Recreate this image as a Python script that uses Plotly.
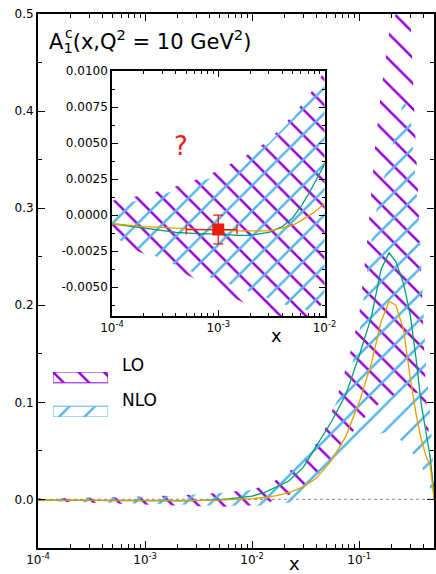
import numpy as np
import plotly.graph_objects as go

# ---------------- data ----------------
x_band = [1e-4, 2e-4, 5e-4, 1e-3, 2e-3, 3e-3, 5e-3, 7e-3, 1e-2, 0.015, 0.02, 0.03, 0.045,
          0.06, 0.08, 0.1, 0.12, 0.14, 0.16, 0.19, 0.22, 0.26, 0.30, 0.33, 0.36, 0.39,
          0.42, 0.46, 0.5]
lo_upper = [0.0010, 0.0014, 0.0022, 0.0031, 0.0043, 0.0052, 0.0069, 0.0082, 0.0100, 0.017,
            0.025, 0.040, 0.065, 0.100, 0.145, 0.19, 0.27, 0.36, 0.42, 0.48, 0.50, 0.53,
            0.50, 0.39, 0.30, 0.20, 0.11, 0.05, 0.0]
lo_lower = [-0.0017, -0.0027, -0.0041, -0.0052, -0.0063, -0.0069, -0.0075, -0.0072, -0.0060,
            -0.002, 0.002, 0.013, 0.030, 0.048, 0.065, 0.078, 0.088, 0.095, 0.10, 0.105,
            0.108, 0.11, 0.11, 0.11, 0.11, 0.10, 0.075, 0.04, 0.0]
nlo_upper = [0.0006, 0.0011, 0.0019, 0.0028, 0.0040, 0.0050, 0.0067, 0.0080, 0.0098, 0.018,
             0.027, 0.042, 0.068, 0.098, 0.125, 0.17, 0.24, 0.29, 0.32, 0.35, 0.38, 0.41,
             0.40, 0.34, 0.29, 0.22, 0.14, 0.09, 0.02]
nlo_lower = [-0.0015, -0.0025, -0.0038, -0.0045, -0.0053, -0.0058, -0.0064, -0.0066, -0.0065,
             -0.006, -0.004, -0.001, 0.012, 0.025, 0.040, 0.052, 0.062, 0.066, 0.068, 0.07,
             0.066, 0.058, 0.05, 0.045, 0.038, 0.032, 0.025, 0.012, 0.0]

x_curve = [1e-4, 2e-4, 4e-4, 7e-4, 1e-3, 1.5e-3, 2e-3, 3e-3, 4e-3, 5e-3, 6e-3, 7e-3, 8e-3,
           1e-2, 0.013, 0.017, 0.022, 0.03, 0.04, 0.055, 0.075, 0.1, 0.13, 0.16, 0.19, 0.22,
           0.26, 0.30, 0.34, 0.38, 0.42, 0.46, 0.49, 0.5]
green_curve = [-0.0006, -0.0009, -0.0012, -0.0013, -0.0013, -0.0014, -0.0014, -0.0012, -0.0008,
               -0.0002, 0.0006, 0.0014, 0.0022, 0.0035, 0.007, 0.013, 0.019, 0.033, 0.056,
               0.080, 0.108, 0.148, 0.188, 0.237, 0.254, 0.245, 0.222, 0.19, 0.145, 0.098,
               0.07, 0.044, 0.015, 0.0]
orange_curve = [-0.0006, -0.0008, -0.0009, -0.0010, -0.0010, -0.0011, -0.0011, -0.0011, -0.0009,
                -0.0007, -0.0004, -0.0001, 0.0002, 0.0008, 0.002, 0.004, 0.007, 0.013, 0.022,
                0.040, 0.065, 0.100, 0.140, 0.183, 0.204, 0.200, 0.175, 0.125, 0.088, 0.062,
                0.045, 0.035, 0.01, 0.0]

point_x = [1e-3]
point_y = [-0.001]
point_xerr = [5e-4]
point_yerr = [0.001]

legend_labels = ["LO", "NLO"]
x_ticks = [1e-4, 1e-3, 1e-2, 1e-1]
x_ticktext = ["10<sup>-4</sup>", "10<sup>-3</sup>", "10<sup>-2</sup>", "10<sup>-1</sup>"]
y_ticks = [0.0, 0.1, 0.2, 0.3, 0.4, 0.5]
inset_x_ticks = [1e-4, 1e-3, 1e-2]
inset_x_ticktext = ["10<sup>-4</sup>", "10<sup>-3</sup>", "10<sup>-2</sup>"]
inset_y_ticks = [-0.005, -0.0025, 0.0, 0.0025, 0.005, 0.0075, 0.01]
inset_y_ticktext = ["-0.0050", "-0.0025", "0.0000", "0.0025", "0.0050", "0.0075", "0.0100"]

# ---------------- style ----------------
PURPLE = "#9400d3"
BLUE = "#56b4e9"
GREEN = "#009e73"
ORANGE = "#e69f00"
RED = "#e51e10"
FONT = "DejaVu Sans"
PAT_SIZE = 18
PAT_SOLID = 0.14

fig = go.Figure()


def pattern(shape, color):
    return dict(shape=shape, fgcolor=color, fgopacity=1, bgcolor="rgba(0,0,0,0)",
                size=PAT_SIZE, solidity=PAT_SOLID, fillmode="overlay")


def band(xs, up, lo, shape, color, xa, ya):
    return go.Scatter(
        x=list(xs) + list(xs)[::-1], y=list(up) + list(lo)[::-1],
        xaxis=xa, yaxis=ya, mode="lines", fill="toself",
        fillcolor="rgba(0,0,0,0)", fillpattern=pattern(shape, color),
        line=dict(width=0, color="rgba(0,0,0,0)"), showlegend=False, hoverinfo="skip")


for xa, ya in [("x", "y"), ("x2", "y2")]:
    fig.add_trace(band(x_band, lo_upper, lo_lower, "\\", PURPLE, xa, ya))
    fig.add_trace(band(x_band, nlo_upper, nlo_lower, "/", BLUE, xa, ya))
    fig.add_trace(go.Scatter(x=x_curve, y=green_curve, xaxis=xa, yaxis=ya, mode="lines",
                             line=dict(color=GREEN, width=1.3), showlegend=False))
    fig.add_trace(go.Scatter(x=x_curve, y=orange_curve, xaxis=xa, yaxis=ya, mode="lines",
                             line=dict(color=ORANGE, width=1.3), showlegend=False))

fig.add_trace(go.Scatter(
    x=point_x, y=point_y, xaxis="x2", yaxis="y2", mode="markers",
    marker=dict(symbol="square", size=12, color=RED),
    error_x=dict(type="data", array=point_xerr, color=RED, thickness=1.3, width=5),
    error_y=dict(type="data", array=point_yerr, color=RED, thickness=1.3, width=5),
    showlegend=False))

# legend swatches on a dedicated hidden axis
sw_colors = [PURPLE, BLUE]
sw_shapes = ["\\", "/"]
sw_rows = [(0.76, 1.0), (0.0, 0.24)]
for lab, col, shp, (y0, y1) in zip(legend_labels, sw_colors, sw_shapes, sw_rows):
    fig.add_trace(go.Scatter(
        x=[0, 1, 1, 0, 0], y=[y0, y0, y1, y1, y0], xaxis="x3", yaxis="y3",
        mode="lines", fill="toself", fillcolor="rgba(0,0,0,0)",
        fillpattern=pattern(shp, col),
        line=dict(color=col, width=1), showlegend=False, hoverinfo="skip"))

W, H = 436, 574
L, R, T, B = 38, 2, 14, 26
pw, ph = W - L - R, H - T - B


def px_x(p):
    return (p - L) / pw


def px_y(p):
    return (H - B - p) / ph


axis_common = dict(showline=True, linecolor="black", mirror="ticks", ticks="inside",
                   tickcolor="black", showgrid=False, zeroline=False, automargin=False,
                   tickfont=dict(family=FONT, size=12, color="black"))

minor_main_x = [m * 10.0 ** e for e in range(-4, 0) for m in range(2, 10) if m * 10.0 ** e < 0.5]
minor_inset_x = [m * 10.0 ** e for e in range(-4, -2) for m in range(2, 10)]

fig.update_layout(
    width=W, height=H, margin=dict(l=L, r=R, t=T, b=B, autoexpand=False),
    paper_bgcolor="white", plot_bgcolor="white", showlegend=False,
    font=dict(family=FONT, size=12, color="black"),
    xaxis=dict(type="log", range=[-4, np.log10(0.5)], tickvals=x_ticks, ticktext=x_ticktext,
               ticklen=7, tickwidth=1.2, linewidth=2,
               minor=dict(tickvals=minor_main_x, ticks="inside", ticklen=4, tickcolor="black"),
               **axis_common),
    yaxis=dict(range=[-0.05, 0.5], tickvals=y_ticks, tickformat=".1f",
               ticklen=7, tickwidth=1.2, linewidth=2,
               minor=dict(dtick=0.05, ticks="inside", ticklen=4, tickcolor="black"),
               **axis_common),
    xaxis2=dict(type="log", range=[-4, -2], domain=[px_x(112), px_x(324.5)], anchor="y2",
                tickvals=inset_x_ticks, ticktext=inset_x_ticktext, ticklen=6, linewidth=1.5,
                minor=dict(tickvals=minor_inset_x, ticks="inside", ticklen=3, tickcolor="black"),
                **axis_common),
    yaxis2=dict(range=[-0.007, 0.010], domain=[px_y(316), px_y(71)], anchor="x2",
                tickvals=inset_y_ticks, ticktext=inset_y_ticktext, ticklen=6, linewidth=1.5,
                minor=dict(dtick=0.00125, ticks="inside", ticklen=3, tickcolor="black"),
                **axis_common),
    xaxis3=dict(range=[0, 1], domain=[px_x(53), px_x(108)], anchor="y3", visible=False,
                fixedrange=True),
    yaxis3=dict(range=[0, 1], domain=[px_y(417), px_y(372)], anchor="x3", visible=False,
                fixedrange=True),
)

# dotted zero lines
for xr, yr in [("x domain", "y"), ("x2 domain", "y2")]:
    fig.add_shape(type="line", xref=xr, yref=yr, x0=0, x1=1, y0=0, y1=0,
                  line=dict(color="#a0a0a0", width=1.2, dash="dot"), layer="below")

annotations = [
    dict(text="A<sub>1</sub>(x,Q<sup>2</sup> = 10 GeV<sup>2</sup>)", xref="paper", yref="paper",
         x=px_x(47), y=px_y(41), xanchor="left", yanchor="middle", showarrow=False,
         font=dict(family=FONT, size=21, color="black")),
    dict(text="c", xref="paper", yref="paper", x=px_x(63), y=px_y(33), xanchor="left",
         yanchor="middle", showarrow=False, font=dict(family=FONT, size=14, color="black")),
    dict(text="?", xref="x2", yref="y2", x=np.log10(4.5e-4), y=0.0048, showarrow=False,
         font=dict(family=FONT, size=26, color=RED)),
    dict(text="x", xref="paper", yref="paper", x=px_x(276), y=px_y(336), showarrow=False,
         font=dict(family=FONT, size=18, color="black")),
    dict(text="x", xref="paper", yref="paper", x=px_x(294), y=px_y(563), showarrow=False,
         yanchor="middle", font=dict(family=FONT, size=18, color="black")),
    dict(text=legend_labels[0], xref="paper", yref="paper", x=px_x(120), y=px_y(377),
         xanchor="left", showarrow=False, font=dict(family=FONT, size=17, color="black")),
    dict(text=legend_labels[1], xref="paper", yref="paper", x=px_x(120), y=px_y(412),
         xanchor="left", showarrow=False, font=dict(family=FONT, size=17, color="black")),
]
fig.update_layout(annotations=annotations)

fig.write_html("out.html")
